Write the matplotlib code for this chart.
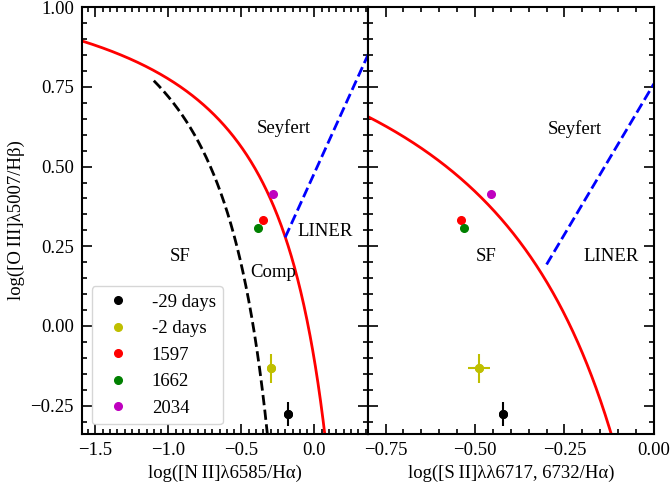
import numpy as np
import matplotlib
matplotlib.use('Agg')
import matplotlib.pyplot as plt
from matplotlib.ticker import MultipleLocator, FuncFormatter

plt.rcParams['font.family'] = ['Liberation Serif', 'DejaVu Serif']
plt.rcParams['mathtext.fontset'] = 'stix'

# epochs and their line ratios
labels = ['-29 days', '-2 days', '1597', '1662', '2034']
colors = ['k', 'y', 'r', 'g', 'm']
oiii_hb = [-0.275, -0.133, 0.334, 0.307, 0.414]
oiii_err = [0.038, 0.046, 0.0, 0.0, 0.0]
nii_ha = [-0.178, -0.299, -0.351, -0.383, -0.285]
nii_err = [0.008, 0.008, 0.0, 0.0, 0.0]
sii_ha = [-0.422, -0.490, -0.538, -0.532, -0.455]
sii_err = [0.012, 0.031, 0.0, 0.0, 0.0]

fs = 13.5


def fmt(nd):
    def f(v, pos):
        s = f'{v:.{nd}f}'
        return s.replace('-', '\u2212')
    return FuncFormatter(f)


fig = plt.figure(figsize=(6.7, 4.83), dpi=100)
ax1 = fig.add_axes([0.1228, 0.102, 0.426, 0.883])
ax2 = fig.add_axes([0.5488, 0.102, 0.4272, 0.883], sharey=ax1)

# --- [N II] diagram ---
x = np.linspace(-1.59, 0.2, 500)
ke01 = 0.61 / (x - 0.47) + 1.19
ax1.plot(x, ke01, 'r-', lw=2)

xk = np.linspace(-1.1, 0.0, 500)
ka03 = 0.61 / (xk - 0.05) + 1.3
ax1.plot(xk, ka03, 'k--', lw=2)

xc = np.linspace(-0.2, 0.4, 50)
ax1.plot(xc, 1.01 * xc + 0.48, 'b--', lw=2)

for i in range(len(labels)):
    if oiii_err[i] > 0:
        ax1.errorbar(nii_ha[i], oiii_hb[i], xerr=nii_err[i], yerr=oiii_err[i],
                     fmt='o', color=colors[i], ms=5.5, elinewidth=1.5, capsize=0)
    ax1.plot(nii_ha[i], oiii_hb[i], 'o', color=colors[i], ms=5.5, label=labels[i])

ax1.text(-0.21, 0.62, 'Seyfert', fontsize=fs, ha='center', va='center')
ax1.text(0.075, 0.296, 'LINER', fontsize=fs, ha='center', va='center')
ax1.text(-0.92, 0.218, 'SF', fontsize=fs, ha='center', va='center')
ax1.text(-0.285, 0.167, 'Comp', fontsize=fs, ha='center', va='center')

ax1.set_xlim(-1.59, 0.365)
ax1.set_ylim(-0.338, 1.0)
ax1.set_xlabel('log([N\u2009II]λ6585/Hα)', fontsize=fs)
ax1.set_ylabel('log([O\u2009III]λ5007/Hβ)', fontsize=fs)
ax1.legend(loc='lower left', fontsize=fs)

# --- [S II] diagram ---
xs = np.linspace(-0.8, -0.1, 500)
ke01s = 0.72 / (xs - 0.32) + 1.30
ax2.plot(xs, ke01s, 'r-', lw=2)

xl = np.linspace(-0.3, 0.0, 50)
ax2.plot(xl, 1.89 * xl + 0.76, 'b--', lw=2)

for i in range(len(labels)):
    if oiii_err[i] > 0:
        ax2.errorbar(sii_ha[i], oiii_hb[i], xerr=sii_err[i], yerr=oiii_err[i],
                     fmt='o', color=colors[i], ms=5.5, elinewidth=1.5, capsize=0)
    ax2.plot(sii_ha[i], oiii_hb[i], 'o', color=colors[i], ms=5.5)

ax2.text(-0.222, 0.617, 'Seyfert', fontsize=fs, ha='center', va='center')
ax2.text(-0.12, 0.218, 'LINER', fontsize=fs, ha='center', va='center')
ax2.text(-0.469, 0.218, 'SF', fontsize=fs, ha='center', va='center')

ax2.set_xlim(-0.8, 0.0)
ax2.set_xlabel('log([S\u2009II]λλ6717, 6732/Hα)', fontsize=fs)

for ax in (ax1, ax2):
    ax.xaxis.set_minor_locator(MultipleLocator(0.05))
    ax.yaxis.set_major_locator(MultipleLocator(0.25))
    ax.yaxis.set_minor_locator(MultipleLocator(0.05))
    ax.tick_params(which='both', direction='in', top=True, right=True,
                   labelsize=fs, pad=6, width=1.2)
    ax.tick_params(which='major', length=7)
    ax.tick_params(which='minor', length=3.5)
    for s in ax.spines.values():
        s.set_linewidth(1.5)
ax1.xaxis.set_major_locator(MultipleLocator(0.5))
ax2.xaxis.set_major_locator(MultipleLocator(0.25))
ax1.xaxis.set_major_formatter(fmt(1))
ax1.yaxis.set_major_formatter(fmt(2))
ax2.xaxis.set_major_formatter(fmt(2))
ax2.tick_params(labelleft=False)

fig.savefig('out.png', dpi=100)
